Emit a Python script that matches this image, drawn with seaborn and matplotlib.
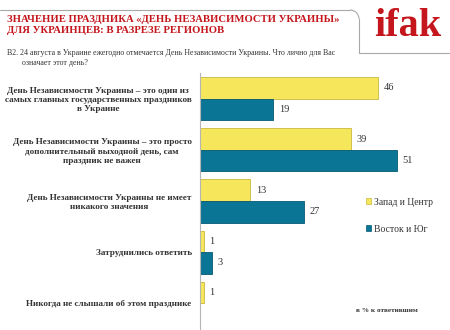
import matplotlib
matplotlib.use("Agg")
import matplotlib.pyplot as plt
from matplotlib.lines import Line2D
from matplotlib.patches import Patch, Arc
import seaborn as sns
import pandas as pd

# Survey answers (Ukrainian Independence Day), % of respondents by region
categories = [
    "День Независимости Украины – это один из\nсамых главных государственных праздников\nв Украине",
    "День Независимости Украины – это просто\nдополнительный выходной день, сам\nпраздник не важен",
    "День Независимости Украины не имеет\nникакого значения",
    "Затруднились ответить",
    "Никогда не слышали об этом празднике",
]
regions = ["Запад и Центр", "Восток и Юг"]
west_center = [46, 39, 13, 1, 1]
east_south = [19, 51, 27, 3, None]

title_lines = "ЗНАЧЕНИЕ ПРАЗДНИКА «ДЕНЬ НЕЗАВИСИМОСТИ УКРАИНЫ»\nДЛЯ УКРАИНЦЕВ: В РАЗРЕЗЕ РЕГИОНОВ"
question = "B2. 24 августа в Украине ежегодно отмечается День Независимости Украины. Что лично для Вас"
question_2 = "означает этот день?"
note = "в % к ответившим"
logo = "ifak"

rows = []
for cat, a, b in zip(categories, west_center, east_south):
    rows.append({"cat": cat, "region": regions[0], "value": a})
    rows.append({"cat": cat, "region": regions[1], "value": b})
df = pd.DataFrame(rows)

sns.set_theme(style="white")
plt.rcParams["font.family"] = ["Liberation Serif", "DejaVu Serif"]

YELLOW = "#f6e65c"
BLUE = "#0b7596"
RED = "#c4161c"
TEXT = "#333333"

fig = plt.figure(figsize=(4.5, 3.3), dpi=100)
ax = fig.add_axes([200 / 450, 1 / 330, 232 / 450, 256 / 330])

sns.barplot(data=df, y="cat", x="value", hue="region", order=categories,
            hue_order=regions, palette=[YELLOW, BLUE], orient="h",
            width=0.84, ax=ax, legend=False, saturation=1)

edge_cols = ["#c9b83c", "#055a74"]
for cont, ec in zip(ax.containers, edge_cols):
    for bar in cont:
        bar.set_edgecolor(ec)
        bar.set_linewidth(0.6)
    labels = [f"{v:.0f}" if v == v and v > 0 else "" for v in cont.datavalues]
    ax.bar_label(cont, labels=labels, padding=4, fontsize=7.5, color=TEXT)

ax.set_xlim(0, 60)
ax.set_ylim(len(categories) - 0.5, -0.5)
ax.set_xlabel("")
ax.set_ylabel("")
ax.set_xticks([])
for s in ["top", "right", "bottom"]:
    ax.spines[s].set_visible(False)
ax.spines["left"].set_color("#b5b5b5")
ax.spines["left"].set_linewidth(0.8)

ax.set_yticks(range(len(categories)))
ax.set_yticklabels(categories, fontsize=6.6, color=TEXT, fontweight="bold",
                   multialignment="center", linespacing=1.2)
ax.tick_params(axis="y", which="major", length=0, pad=6)
ax.set_yticks([i - 0.5 for i in range(len(categories) + 1)], minor=True)
ax.tick_params(axis="y", which="minor", length=4, color="#b5b5b5", width=0.8)

handles = [Patch(facecolor=YELLOW, edgecolor=edge_cols[0], linewidth=0.5),
           Patch(facecolor=BLUE, edgecolor=edge_cols[1], linewidth=0.5)]
fig.legend(handles, regions, loc="upper left", bbox_to_anchor=(357 / 450, 1 - 189 / 330),
           frameon=False, fontsize=6.9, handlelength=0.6, handleheight=0.6,
           handletextpad=0.3, labelspacing=1.9, labelcolor=TEXT)

# header
fig.text(7 / 450, 1 - 15 / 330, title_lines, color=RED, fontsize=7.7, fontweight="bold",
         va="top", ha="left", linespacing=1.25)
fig.text(7 / 450, 1 - 53 / 330, question, color=TEXT, fontsize=5.7, va="center", ha="left")
fig.text(22 / 450, 1 - 63 / 330, question_2, color=TEXT, fontsize=5.7, va="center", ha="left")
fig.text(408 / 450, 1 - 36 / 330, logo, color=RED, fontsize=29, fontweight="bold",
         va="baseline", ha="center")
fig.text(356 / 450, 1 - 310 / 330, note, color=TEXT, fontsize=5.2, fontweight="bold",
         va="center", ha="left")

# frame line around the header
fx = lambda x: x / 450
fy = lambda y: 1 - y / 330
LINE = "#a8a8a8"
fig.add_artist(Line2D([fx(0), fx(350)], [fy(10), fy(10)], color=LINE, lw=0.8))
fig.add_artist(Line2D([fx(359), fx(359)], [fy(19), fy(53)], color=LINE, lw=0.8))
fig.add_artist(Line2D([fx(359), fx(450)], [fy(53), fy(53)], color=LINE, lw=0.8))
fig.add_artist(Arc((fx(350), fy(19)), fx(18), 18 / 330, theta1=0, theta2=90,
                   color=LINE, lw=0.8, transform=fig.transFigure))

fig.savefig("out.png", dpi=100)
